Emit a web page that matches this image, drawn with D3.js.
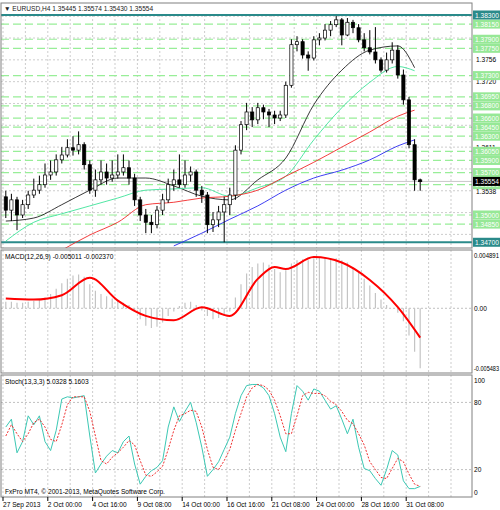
<!DOCTYPE html>
<html>
<head>
<meta charset="utf-8">
<script src="https://cdn.jsdelivr.net/npm/d3@7"></script>
<style>
  body { margin: 0; background: #fff; }
  text { font-family: "Liberation Sans", Arial, sans-serif; font-size: 6.6px; }
</style>
</head>
<body>
<div id="chart"></div>
<script>
const width = 500;
const height = 510;

// H4 candles (condensed), open = previous close
const firstOpen = 1.3530;
const closes = [1.3508,1.3525,1.3500,1.3517,1.3533,1.3541,1.3550,1.3566,1.3571,1.3591,
  1.3599,1.3611,1.3607,1.3616,1.3583,1.3541,1.3558,1.3571,1.3561,1.3566,
  1.3571,1.3578,1.3561,1.3525,1.3500,1.3488,1.3484,1.3508,1.3525,1.3550,
  1.3558,1.3550,1.3566,1.3571,1.3541,1.3533,1.3484,1.3492,1.3505,1.3517,
  1.3533,1.3607,1.3649,1.3670,1.3657,1.3677,1.3670,1.3665,1.3660,1.3665,
  1.3714,1.3781,1.3786,1.3764,1.3759,1.3789,1.3792,1.3805,1.3814,1.3822,
  1.3797,1.3818,1.3809,1.3789,1.3776,1.3769,1.3756,1.3739,1.3756,1.3772,
  1.3731,1.3690,1.3616,1.3558,1.3555];
const highs = [1.3540,1.3535,1.3530,1.3525,1.3540,1.3560,1.3565,1.3585,1.3590,1.3600,
  1.3612,1.3625,1.3630,1.3638,1.3620,1.3590,1.3575,1.3590,1.3585,1.3590,
  1.3600,1.3600,1.3590,1.3568,1.3530,1.3510,1.3500,1.3515,1.3535,1.3560,
  1.3575,1.3600,1.3590,1.3580,1.3575,1.3548,1.3538,1.3505,1.3515,1.3530,
  1.3545,1.3615,1.3655,1.3685,1.3678,1.3685,1.3682,1.3675,1.3672,1.3672,
  1.3720,1.3790,1.3795,1.3790,1.3770,1.3795,1.3800,1.3815,1.3820,1.3832,
  1.3825,1.3825,1.3822,1.3815,1.3800,1.3805,1.3810,1.3760,1.3768,1.3785,
  1.3780,1.3740,1.3695,1.3625,1.3560];
const lows = [1.3495,1.3490,1.3475,1.3495,1.3510,1.3528,1.3535,1.3545,1.3558,1.3565,
  1.3585,1.3595,1.3598,1.3600,1.3575,1.3535,1.3530,1.3550,1.3550,1.3555,
  1.3560,1.3565,1.3550,1.3515,1.3490,1.3470,1.3470,1.3478,1.3500,1.3520,
  1.3540,1.3545,1.3545,1.3555,1.3530,1.3520,1.3470,1.3472,1.3480,1.3455,
  1.3500,1.3525,1.3600,1.3640,1.3645,1.3650,1.3658,1.3645,1.3650,1.3655,
  1.3660,1.3710,1.3770,1.3758,1.3738,1.3755,1.3780,1.3788,1.3795,1.3810,
  1.3780,1.3795,1.3800,1.3785,1.3770,1.3765,1.3750,1.3735,1.3735,1.3750,
  1.3725,1.3682,1.3610,1.3540,1.3540];

// moving averages sampled at these candle indices
const maIndex = [0,5,10,15,20,25,30,35,40,45,50,55,60,65,70,73];
const maBlack = [1.3490,1.3495,1.3517,1.3541,1.3561,1.3561,1.3548,1.3531,1.3525,1.3558,1.3594,1.3682,1.3739,1.3772,1.3779,1.3743];
const maGreen = [1.3457,1.3488,1.3502,1.3515,1.3528,1.3541,1.3543,1.3545,1.3531,1.3545,1.3564,1.3624,1.3677,1.3719,1.3745,1.3738];
const maRed = [null,null,1.3442,1.3467,1.3488,1.3517,1.3521,1.3528,1.3531,1.3541,1.3564,1.3587,1.3612,1.3637,1.3663,1.3673];
const maBlue = [null,null,null,null,null,null,1.3449,1.3470,1.3493,1.3515,1.3541,1.3561,1.3574,1.3591,1.3614,1.3624];

const levels = [1.3815,1.3790,1.3775,1.3730,1.3695,1.3680,1.3660,1.3645,1.3630,1.3605,1.3590,1.3570,1.3550,1.3500,1.3485];
const tealLevels = [1.3830, 1.3455];
const tealLabels = ['1.38300', '1.34700'];
const priceTicks = [1.3756, 1.3720, 1.3611, 1.3538];
const gridPrices = [1.3828,1.3792,1.3756,1.3720,1.3684,1.3648,1.3612,1.3576,1.3540,1.3504,1.3468];
const lastPrice = 1.35554;

const macdHist = [0.0006,0.0006,0.0005,0.0005,0.0006,0.0007,0.0008,0.0010,0.0013,0.0018,
  0.0023,0.0027,0.0030,0.0031,0.0029,0.0022,0.0016,0.0013,0.0011,0.0009,
  0.0007,0.0005,0.0003,-0.0003,-0.0010,-0.0016,-0.0018,-0.0017,-0.0013,-0.0007,
  -0.0003,0.0002,0.0005,0.0006,0.0003,-0.0002,-0.0007,-0.0010,-0.0009,-0.0007,
  -0.0003,0.0010,0.0022,0.0032,0.0038,0.0041,0.0042,0.0040,0.0036,0.0033,
  0.0035,0.0041,0.0044,0.0045,0.0044,0.0046,0.0047,0.0047,0.0046,0.0046,
  0.0044,0.0042,0.0038,0.0033,0.0027,0.0021,0.0014,0.0008,0.0003,0.0000,
  -0.0004,-0.0012,-0.0025,-0.0040,-0.0055];
const signalIndex = [0,5,10,15,20,25,30,35,40,45,48,50,55,60,65,70,74];
const macdSignal = [0.0009,0.0008,0.0012,0.0028,0.0007,-0.0007,-0.0011,0.0001,-0.0007,0.0027,0.0038,0.0036,0.0047,0.0042,0.0026,0.0001,-0.0027];

const stochK = [58,65,35,45,68,60,68,45,37,55,83,85,84,85,86,50,17,25,32,37,
  35,45,50,25,7,14,19,22,28,58,76,63,72,80,62,40,14,20,27,38,
  49,70,86,95,96,96,93,86,70,49,36,70,95,90,82,92,90,82,74,77,
  65,52,65,40,21,19,12,6,20,37,33,10,3,3,5];
const stochD = [50,60,52,45,52,62,65,58,47,45,60,78,85,85,85,72,50,28,25,31,
  35,40,46,42,28,15,14,18,23,38,55,68,70,73,72,58,38,22,20,28,
  38,55,70,85,93,96,95,91,82,68,52,52,68,86,89,88,88,86,81,78,
  72,64,61,52,42,27,20,13,12,21,30,27,16,7,5];

const timeLabels = ['27 Sep 2013','2 Oct 00:00','4 Oct 16:00','9 Oct 08:00','14 Oct 00:00',
  '16 Oct 16:00','21 Oct 08:00','24 Oct 00:00','28 Oct 16:00','31 Oct 08:00'];

const plotL = 1, plotR = 472;
const x = d3.scaleLinear().domain([0, 75]).range([3, 423]);
const cx = i => x(i + 0.5);

const yP = d3.scaleLinear().domain([1.3830, 1.3500]).range([15, 215]);
const yM = d3.scaleLinear().domain([0.004891, -0.005483]).range([255, 368]);
const yS = d3.scaleLinear().domain([0, 100]).range([492, 380]);

const svg = d3.select('#chart').append('svg')
  .attr('width', width).attr('height', height);

const panels = [
  { id: 'p', top: 3, bottom: 248 },
  { id: 'm', top: 250, bottom: 373 },
  { id: 's', top: 375, bottom: 497 }
];

panels.forEach(p => {
  svg.append('clipPath').attr('id', 'clip-' + p.id)
    .append('rect').attr('x', plotL).attr('y', p.top)
    .attr('width', plotR - plotL).attr('height', p.bottom - p.top);
  // vertical grid
  svg.append('g').selectAll('line').data(d3.range(0, 105, 4)).join('line')
    .attr('x1', d => x(d)).attr('x2', d => x(d))
    .attr('y1', p.top).attr('y2', p.bottom)
    .attr('stroke', '#c0c0c0').attr('stroke-dasharray', '2,2').attr('stroke-width', 0.8)
    .attr('clip-path', `url(#clip-${p.id})`);
});

// ---------- price panel ----------
const gp = svg.append('g').attr('clip-path', 'url(#clip-p)');
gp.selectAll('.hg').data(gridPrices).join('line')
  .attr('x1', plotL).attr('x2', plotR)
  .attr('y1', d => yP(d)).attr('y2', d => yP(d))
  .attr('stroke', '#c0c0c0').attr('stroke-dasharray', '2,2').attr('stroke-width', 0.8);

gp.selectAll('.lv').data(levels).join('line')
  .attr('x1', plotL).attr('x2', plotR)
  .attr('y1', d => yP(d)).attr('y2', d => yP(d))
  .attr('stroke', '#98ee98').attr('stroke-dasharray', '8,4').attr('stroke-width', 1.2);

gp.selectAll('.tl').data(tealLevels).join('line')
  .attr('x1', plotL).attr('x2', plotR)
  .attr('y1', d => yP(d)).attr('y2', d => yP(d))
  .attr('stroke', '#2a8a8a').attr('stroke-width', 2);

gp.append('line').attr('x1', plotL).attr('x2', plotR)
  .attr('y1', yP(lastPrice)).attr('y2', yP(lastPrice))
  .attr('stroke', '#c8c8c8').attr('stroke-width', 1);

const maLine = d3.line()
  .defined(d => d[1] !== null)
  .x(d => cx(d[0])).y(d => yP(d[1]))
  .curve(d3.curveMonotoneX);
[[maBlack, '#222'], [maGreen, '#3ee39a'], [maRed, '#f02828'], [maBlue, '#2a2af0']]
  .forEach(([vals, col]) => {
    gp.append('path').datum(maIndex.map((k, i) => [k, vals[i]]))
      .attr('d', maLine).attr('fill', 'none').attr('stroke', col).attr('stroke-width', 0.9);
  });

const candles = closes.map((c, i) => ({
  i, c, o: i === 0 ? firstOpen : closes[i - 1], h: highs[i], l: lows[i]
}));
gp.selectAll('.wick').data(candles).join('line')
  .attr('x1', d => cx(d.i)).attr('x2', d => cx(d.i))
  .attr('y1', d => yP(d.h)).attr('y2', d => yP(d.l))
  .attr('stroke', '#000').attr('stroke-width', 1);
gp.selectAll('.body').data(candles).join('rect')
  .attr('x', d => cx(d.i) - 1.6).attr('width', 3.2)
  .attr('y', d => yP(Math.max(d.o, d.c)))
  .attr('height', d => Math.max(1, Math.abs(yP(d.o) - yP(d.c))))
  .attr('fill', d => d.c >= d.o ? '#fff' : '#000')
  .attr('stroke', '#000').attr('stroke-width', 0.7);

// header
svg.append('rect').attr('x', plotL).attr('y', 3).attr('width', plotR - plotL).attr('height', 11).attr('fill', '#fff');
svg.append('text').attr('x', 4).attr('y', 11).text('▼ EURUSD,H4  1.35445 1.35574 1.35430 1.35554')
  .attr('fill', '#222');
svg.append('line').attr('x1', plotL).attr('x2', plotR).attr('y1', yP(1.3830)).attr('y2', yP(1.3830))
  .attr('stroke', '#2a8a8a').attr('stroke-width', 2);

// right axis labels
const fmt5 = d3.format('.5f');
const fmt4 = d3.format('.4f');
svg.append('g').selectAll('text').data(priceTicks).join('text')
  .attr('x', 476).attr('y', d => yP(d) + 2.5).text(d => fmt4(d)).attr('fill', '#000');
const labelBox = (val, txt, fill, col) => {
  svg.append('rect').attr('x', 473).attr('y', yP(val) - 4.5).attr('width', 27).attr('height', 9).attr('fill', fill);
  svg.append('text').attr('x', 475).attr('y', yP(val) + 2.5).text(txt).attr('fill', col);
};
levels.forEach(v => labelBox(v, fmt5(v), '#96e896', '#fff'));
labelBox(lastPrice, fmt5(lastPrice), '#000', '#fff');
tealLevels.forEach((v, i) => labelBox(v, tealLabels[i], '#2a8a8a', '#fff'));

// ---------- MACD panel ----------
const gm = svg.append('g').attr('clip-path', 'url(#clip-m)');
gm.append('line').attr('x1', plotL).attr('x2', plotR).attr('y1', yM(0)).attr('y2', yM(0))
  .attr('stroke', '#c0c0c0').attr('stroke-dasharray', '2,2');
gm.selectAll('.hb').data(macdHist).join('line')
  .attr('x1', (d, i) => cx(i)).attr('x2', (d, i) => cx(i))
  .attr('y1', yM(0)).attr('y2', d => yM(d))
  .attr('stroke', '#c4c4c4').attr('stroke-width', 1.2);
gm.append('path').datum(signalIndex.map((k, i) => [k, macdSignal[i]]))
  .attr('d', d3.line().x(d => cx(d[0])).y(d => yM(d[1])).curve(d3.curveMonotoneX))
  .attr('fill', 'none').attr('stroke', '#f00').attr('stroke-width', 2);
svg.append('text').attr('x', 5).attr('y', 259).text('MACD(12,26,9) -0.005011 -0.002370');
[[0.004891, '0.004891'], [0, '0.00'], [-0.005483, '-0.005483']].forEach(([v, t]) => {
  svg.append('text').attr('x', 474).attr('y', yM(v) + 2.5).text(t)
    .attr('textLength', t.length > 5 ? 25 : null).attr('lengthAdjust', 'spacingAndGlyphs');
});

// ---------- Stochastic panel ----------
const gs = svg.append('g').attr('clip-path', 'url(#clip-s)');
[80, 20].forEach(v => gs.append('line').attr('x1', plotL).attr('x2', plotR)
  .attr('y1', yS(v)).attr('y2', yS(v)).attr('stroke', '#c0c0c0').attr('stroke-dasharray', '2,2'));
const sLine = d3.line().x((d, i) => cx(i)).y(d => yS(d));
gs.append('path').datum(stochK).attr('d', sLine).attr('fill', 'none')
  .attr('stroke', '#3cc8b4').attr('stroke-width', 1);
gs.append('path').datum(stochD).attr('d', sLine).attr('fill', 'none')
  .attr('stroke', '#f03030').attr('stroke-width', 1).attr('stroke-dasharray', '2,1.5');
svg.append('text').attr('x', 5).attr('y', 384).text('Stoch(13,3,3) 5.0328 5.1603');
svg.append('text').attr('x', 5).attr('y', 494).text('FxPro MT4, © 2001-2013, MetaQuotes Software Corp.');
[100, 80, 20, 0].forEach(v => svg.append('text').attr('x', 474).attr('y', yS(v) + 2.5).text(v));

// panel borders
panels.forEach(p => {
  svg.append('rect').attr('x', plotL).attr('y', p.top)
    .attr('width', plotR - plotL).attr('height', p.bottom - p.top)
    .attr('fill', 'none').attr('stroke', '#808080').attr('stroke-width', 1);
});

// time axis
const tAxis = svg.append('g');
timeLabels.forEach((t, k) => {
  const xx = x(k * 8);
  tAxis.append('line').attr('x1', xx).attr('x2', xx).attr('y1', 497).attr('y2', 501).attr('stroke', '#000');
  tAxis.append('text').attr('x', xx).attr('y', 507).text(t);
});
</script>
</body>
</html>
